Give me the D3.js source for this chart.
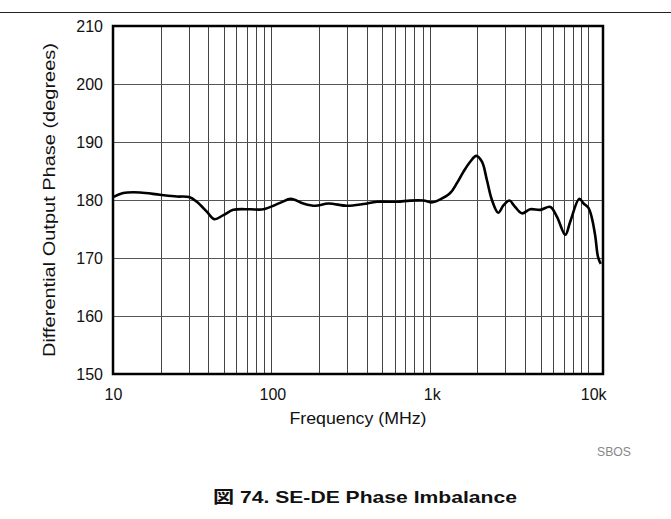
<!DOCTYPE html>
<html><head><meta charset="utf-8">
<script src="https://cdn.jsdelivr.net/npm/d3@7"></script>
<style>
html,body{margin:0;padding:0;background:#fff;}
svg text{font-family:"Liberation Sans",Arial,sans-serif;}
</style></head>
<body><svg id="c" width="671" height="519"></svg>
<script>
const freqMHz = [10,11.6,14.8,19.8,25.3,30.2,33.8,39.1,43.6,49.8,57.5,73.4,89,113.5,132.6,159,189,229,300,381,463,620,752,912,1040,1163,1345,1483,1633,1800,1964,2134,2295,2468,2704,2922,3189,3413,3818,4306,4983,5763,6353,7167,7709,8788,9354,10058,10570,11090,11530,12010];
const phaseDeg = [180.5,181.2,181.3,180.9,180.6,180.5,179.7,178.0,176.7,177.4,178.3,178.4,178.4,179.5,180.2,179.4,179.0,179.4,179.0,179.3,179.7,179.7,179.9,179.9,179.6,180.1,181.2,182.9,184.9,186.6,187.6,186.6,183.4,180.0,177.8,179.1,179.9,179.0,177.7,178.4,178.3,178.8,177.1,174.0,176.3,180.2,179.4,178.6,176.8,173.7,170.2,169.0];
const xTickVals = [10,100,1000,10000];
const xTickLabels = ["10","100","1k","10k"];
const yTickVals = [150,160,170,180,190,200,210];
const xDomain = [10,12400];
const yDomain = [150,210];

const svg = d3.select("#c");
const L=113,R=603,T=26,B=374;
const x = d3.scaleLog().domain(xDomain).range([L,R]);
const y = d3.scaleLinear().domain(yDomain).range([B,T]);

// top rule
svg.append("line").attr("x1",0).attr("x2",671).attr("y1",12.5).attr("y2",12.5).attr("stroke","#222").attr("stroke-width",1);

// vertical grid lines (minor log)
const vgrid=[];
for(let d=10; d<=10000; d*=10){ for(let k=1;k<=9;k++){ const v=d*k; if(v>xDomain[0]&&v<xDomain[1]) vgrid.push(v);} }
svg.append("g").selectAll("line").data(vgrid).join("line")
  .attr("x1",d=>Math.round(x(d))+0.5).attr("x2",d=>Math.round(x(d))+0.5)
  .attr("y1",T).attr("y2",B).attr("stroke","#444").attr("stroke-width",1);
svg.append("g").selectAll("line").data(yTickVals.slice(1,-1)).join("line")
  .attr("x1",L).attr("x2",R).attr("y1",d=>Math.round(y(d))+0.5).attr("y2",d=>Math.round(y(d))+0.5)
  .attr("stroke","#555").attr("stroke-width",1);

// axes labels via d3 axis
const xAxis = d3.axisBottom(x).tickValues(xTickVals).tickFormat((d,i)=>xTickLabels[i]).tickSize(0).tickPadding(15);
const gx = svg.append("g").attr("transform",`translate(0,${B})`).call(xAxis);
gx.select(".domain").remove();
gx.selectAll("text").attr("font-size",16).attr("fill","#111").attr("font-family","Liberation Sans, Arial, sans-serif")
  .attr("dx",d=>d===10000?5:(d===1000?2:(d===100?1:0)));

const yAxis = d3.axisLeft(y).tickValues(yTickVals).tickSize(0).tickPadding(10);
const gy = svg.append("g").attr("transform",`translate(${L},0)`).call(yAxis);
gy.select(".domain").remove();
gy.selectAll("text").attr("font-size",16).attr("fill","#111").attr("font-family","Liberation Sans, Arial, sans-serif");

// curve
const line = d3.line().x((d,i)=>x(freqMHz[i])).y(d=>y(d)).curve(d3.curveCatmullRom.alpha(0.5));
svg.append("path").datum(phaseDeg).attr("d",line).attr("fill","none").attr("stroke","#000").attr("stroke-width",2.6).attr("stroke-linejoin","round");

// border
svg.append("rect").attr("x",L).attr("y",T).attr("width",R-L).attr("height",B-T).attr("fill","none").attr("stroke","#000").attr("stroke-width",2.5);

// titles
svg.append("text").attr("x",(L+R)/2).attr("y",424).attr("text-anchor","middle").attr("font-size",16).attr("fill","#111")
  .attr("textLength",137).attr("lengthAdjust","spacingAndGlyphs").text("Frequency (MHz)");
svg.append("text").attr("transform",`translate(55,${(T+B)/2}) rotate(-90)`).attr("text-anchor","middle").attr("font-size",16).attr("fill","#111")
  .attr("textLength",314).attr("lengthAdjust","spacingAndGlyphs").text("Differential Output Phase (degrees)");
svg.append("text").attr("x",614).attr("y",456).attr("text-anchor","middle").attr("font-size",12).attr("fill","#888")
  .attr("textLength",34).attr("lengthAdjust","spacingAndGlyphs").text("SBOS");
const t = svg.append("text").attr("x",365).attr("y",503).attr("text-anchor","middle").attr("font-size",17).attr("font-weight","bold").attr("fill","#111")
  .attr("textLength",304).attr("lengthAdjust","spacingAndGlyphs");
t.append("tspan").attr("font-family","Noto Sans CJK JP").text("図");
t.append("tspan").text(" 74. SE-DE Phase Imbalance");
</script></body></html>
